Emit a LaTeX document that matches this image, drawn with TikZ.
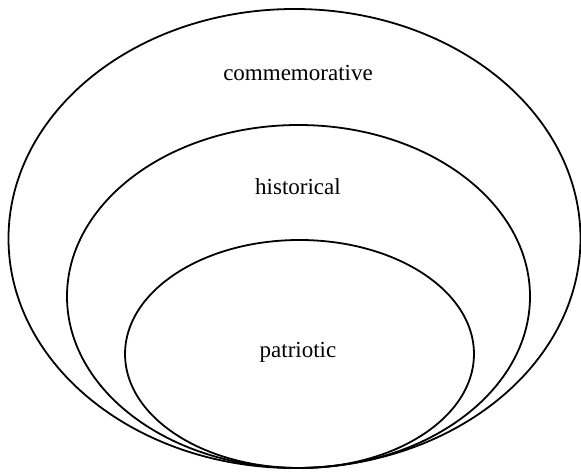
\documentclass[tikz,border=0pt]{standalone}
\usepackage{fontspec}
\setmainfont{Liberation Serif}
\begin{document}
\begin{tikzpicture}[x=1pt,y=-1pt,
  ring/.style={draw=black,line width=1.8pt},
  lbl/.style={font=\fontsize{23}{27}\selectfont,inner sep=0pt}]
\useasboundingbox (0,0) rectangle (581,473);
\draw[ring] (294.5,238.5) ellipse [x radius=286, y radius=229.5];
\draw[ring] (298.5,296.5) ellipse [x radius=231.5, y radius=171.5];
\draw[ring] (299.5,354) ellipse [x radius=174.5, y radius=114];
\node[lbl] (comm) at (298,73) {commemorative};
\node[lbl] (hist) at (298,187) {historical};
\node[lbl] (patr) at (298,352) {patriotic};
\end{tikzpicture}
\end{document}
